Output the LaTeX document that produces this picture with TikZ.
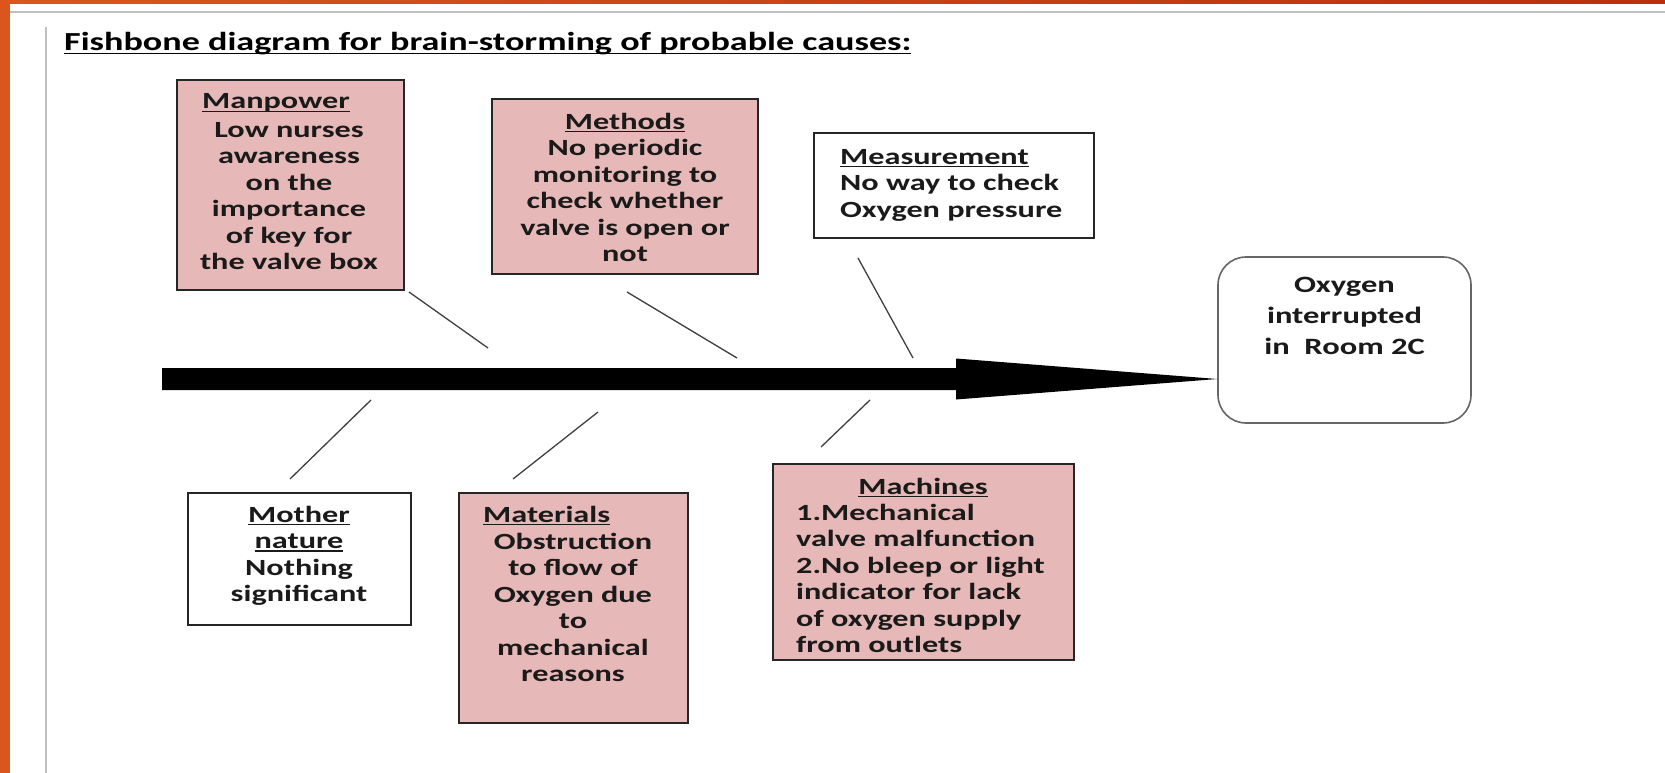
\documentclass[tikz,border=0pt]{standalone}
\usepackage{fontspec}
\usetikzlibrary{calc}
\setmainfont{Carlito}
\newfontfamily\dgf[FakeStretch=1.39]{Carlito}
\newfontfamily\ttlf[FakeStretch=1.39]{Carlito}
\newcommand{\ulx}[1]{\leavevmode\setbox0\hbox{#1}\rlap{\rule[-3pt]{\wd0}{1.4pt}}\box0}
\newcommand{\fs}{\rule{0pt}{18pt}}
\definecolor{pinkfill}{HTML}{E6B9B8}
\definecolor{boxline}{HTML}{262626}
\definecolor{txt}{HTML}{1A1A1A}
\definecolor{bonecol}{HTML}{404040}
\definecolor{grayrule}{HTML}{BFBFBF}
\definecolor{orangeA}{HTML}{D9561C}
\definecolor{orangeB}{HTML}{B8300E}
\begin{document}
\begin{tikzpicture}[x=1pt,y=-1pt,
  pinkbox/.style={draw=boxline, line width=2.4pt, fill=pinkfill, rectangle, inner sep=0pt},
  whitebox/.style={draw=boxline, line width=2.2pt, fill=white, rectangle, inner sep=0pt},
  oxybox/.style={draw=black!60, line width=1.6pt, fill=white, rectangle, rounded corners=28pt, inner sep=0pt},
  body/.style={inner sep=0pt, text=txt, font=\dgf\bfseries\fontsize{23.2pt}{26.5pt}\selectfont},
  bodyc/.style={body, align=center, anchor=north},
  bodyl/.style={body, align=left, anchor=north west},
  hdr/.style={body, anchor=base},
  oxytext/.style={inner sep=0pt, text=txt, align=center, anchor=north, font=\dgf\bfseries\fontsize{23.4pt}{31pt}\selectfont},
  bone/.style={draw=bonecol, line width=1.3pt},
  spine/.style={fill=black}
]
\useasboundingbox (0,0) rectangle (1665,773);
\fill[white] (0,0) rectangle (1665,773);
% frame
\fill[orangeA] (0,0) rectangle (10,773);
\shade[left color=orangeA, right color=orangeB] (0,0) rectangle (1665,4);
\draw[grayrule, line width=2.5pt] (10,12) -- (1665,12);
\draw[grayrule, line width=2pt] (46,27) -- (46,773);
% title
\node[anchor=base west, inner sep=0pt, font=\ttlf\bfseries\fontsize{26pt}{30pt}\selectfont] (title) at (64,51) {\ulx{Fishbone diagram for brain-storming of probable causes:}};
% boxes
\node[pinkbox, minimum width=227pt, minimum height=210pt] (manbox) at (290.5,185) {};
\node[pinkbox, minimum width=266pt, minimum height=175pt] (metbox) at (625,186.5) {};
\node[whitebox, minimum width=280pt, minimum height=105pt] (meabox) at (954,185.5) {};
\node[oxybox, minimum width=253pt, minimum height=166pt] (oxy) at (1344.5,340) {};
\node[whitebox, minimum width=223pt, minimum height=132pt] (motbox) at (299.5,559) {};
\node[pinkbox, minimum width=229pt, minimum height=230pt] (matbox) at (573.5,608) {};
\node[pinkbox, minimum width=301pt, minimum height=196pt] (macbox) at (923.5,562) {};
% texts
\node[hdr, anchor=base west] (manh) at (202,109) {\ulx{Manpower}};
\node[bodyc] (mant) at (289,137-18) {\fs Low nurses\\awareness\\on the\\importance\\of key for\\the valve box};
\node[bodyc] (mett) at (625,129-18) {\fs\ulx{Methods}\\No periodic\\monitoring to\\check whether\\valve is open or\\not};
\node[bodyl] (meat) at (840,164-18) {\fs\ulx{Measurement}\\No way to check\\Oxygen pressure};
\node[oxytext] (oxyt) at (1344.5,292-20) {\rule{0pt}{20pt}Oxygen\\interrupted\\in~~Room 2C};
\node[bodyc] (mott) at (299,522-18) {\fs\ulx{Mother}\\\ulx{nature}\\Nothing\\significant};
\node[hdr, anchor=base west] (math) at (483,522) {\ulx{Materials}};
\node[bodyc] (matt) at (573,549-18) {\fs Obstruction\\to flow of\\Oxygen due\\to\\mechanical\\reasons};
\node[hdr] (mach) at (923,494) {\ulx{Machines}};
\node[bodyl] (mact) at (796,520-18) {\fs 1.Mechanical\\valve malfunction\\2.No bleep or light\\indicator for lack\\of oxygen supply\\from outlets};
% spine
\coordinate (tail) at (162,379);
\coordinate (headbase) at (956,379);
\fill[spine] (tail) ++(0,-11) -- ($(headbase)+(0,-11)$) -- ($(headbase)+(0,-20.5)$) -- (tail -| oxy.west) -- ($(headbase)+(0,20.5)$) -- ($(headbase)+(0,11)$) -- ($(tail)+(0,11)$) -- cycle;
% bones
\coordinate (b1a) at (409,292); \coordinate (b1b) at (488,348);
\coordinate (b2a) at (627,292); \coordinate (b2b) at (737,358);
\coordinate (b3a) at (858,258); \coordinate (b3b) at (913,358);
\coordinate (b4a) at (371,400); \coordinate (b4b) at (290,479);
\coordinate (b5a) at (598,412); \coordinate (b5b) at (513,479);
\coordinate (b6a) at (870,400); \coordinate (b6b) at (821,447);
\draw[bone] (b1a) -- (b1b);
\draw[bone] (b2a) -- (b2b);
\draw[bone] (b3a) -- (b3b);
\draw[bone] (b4a) -- (b4b);
\draw[bone] (b5a) -- (b5b);
\draw[bone] (b6a) -- (b6b);
\end{tikzpicture}
\end{document}
